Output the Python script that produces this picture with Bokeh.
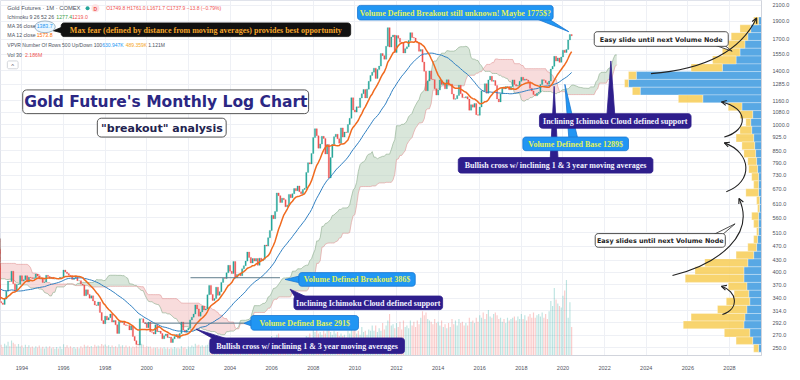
import numpy as np
import pandas as pd
from bokeh.plotting import figure
from bokeh.models import Range1d, LinearScale, FixedTicker, PrintfTickFormatter, Arrow, OpenHead
from bokeh.core.properties import value
from bokeh.embed import file_html
from bokeh.resources import INLINE

# ---------------- data: monthly closes of gold futures (USD/oz) ----------------
closes_1986_1989 = [345, 339, 345, 345, 343, 345, 357, 384, 423, 401, 383, 391,
                    400, 405, 419, 452, 451, 448, 462, 453, 460, 466, 492, 484,
                    458, 426, 457, 451, 451, 436, 437, 432, 397, 413, 422, 410,
                    394, 387, 383, 377, 362, 373, 368, 359, 367, 376, 408, 401]
closes_1990s = [415, 407, 368, 367, 363, 352, 372, 387, 408, 380, 383, 386,
                366, 363, 355, 357, 366, 368, 362, 347, 354, 357, 366, 353,
                354, 353, 341, 337, 337, 343, 357, 340, 349, 339, 334, 333,
                330, 327, 338, 355, 378, 377, 402, 372, 355, 370, 371, 391,
                378, 381, 391, 376, 387, 386, 384, 386, 395, 390, 383, 383,
                375, 376, 392, 389, 385, 387, 383, 383, 384, 383, 387, 387,
                405, 400, 396, 392, 391, 382, 385, 387, 379, 379, 371, 369,
                345, 358, 348, 340, 345, 334, 326, 325, 332, 311, 296, 290,
                304, 297, 301, 308, 293, 296, 288, 273, 294, 292, 294, 288,
                287, 287, 279, 286, 268, 261, 255, 254, 299, 299, 292, 290]
closes_2000s = [283, 293, 276, 275, 272, 288, 276, 277, 273, 264, 269, 272,
                266, 267, 258, 264, 268, 271, 265, 273, 293, 279, 275, 279,
                282, 297, 302, 308, 326, 318, 304, 312, 324, 316, 318, 347,
                368, 348, 335, 339, 364, 346, 354, 375, 385, 384, 398, 417,
                402, 396, 427, 386, 394, 395, 391, 408, 416, 428, 453, 438,
                423, 435, 428, 435, 417, 436, 429, 433, 473, 470, 495, 518,
                569, 557, 583, 654, 643, 616, 633, 627, 600, 606, 648, 635,
                651, 672, 663, 683, 659, 651, 668, 673, 743, 789, 783, 836,
                923, 975, 933, 864, 887, 930, 918, 833, 884, 718, 815, 884,
                928, 942, 916, 891, 980, 926, 955, 952, 1001, 1040, 1182, 1096]
closes_2010s = [1081, 1117, 1113, 1180, 1212, 1244, 1181, 1247, 1309, 1358, 1386, 1421,
                1333, 1410, 1439, 1556, 1536, 1502, 1628, 1828, 1620, 1724, 1746, 1566,
                1740, 1711, 1669, 1664, 1561, 1604, 1622, 1687, 1772, 1719, 1713, 1675,
                1663, 1578, 1595, 1476, 1393, 1234, 1312, 1396, 1327, 1323, 1250, 1202,
                1240, 1321, 1284, 1296, 1250, 1322, 1282, 1287, 1210, 1171, 1175, 1199,
                1278, 1212, 1183, 1182, 1190, 1172, 1094, 1132, 1115, 1141, 1064, 1060,
                1116, 1234, 1232, 1290, 1216, 1321, 1351, 1309, 1316, 1276, 1173, 1152,
                1211, 1254, 1249, 1268, 1268, 1242, 1268, 1321, 1283, 1271, 1275, 1309,
                1343, 1318, 1327, 1319, 1305, 1253, 1233, 1206, 1196, 1215, 1223, 1283,
                1323, 1316, 1298, 1285, 1311, 1413, 1437, 1529, 1485, 1514, 1473, 1523]
closes_2020 = [1589, 1566, 1596, 1694, 1751, 1738]
first_year = 1986

# monthly volume (thousand contracts), from Jan 1993
vol_1993_1999 = [820, 640, 900, 760, 1050, 720, 1150, 980, 860, 700, 880, 690,
                 760, 600, 820, 650, 780, 620, 700, 580, 720, 610, 760, 560,
                 680, 540, 700, 590, 720, 560, 640, 520, 660, 540, 700, 520,
                 860, 640, 780, 600, 720, 580, 660, 540, 640, 560, 720, 600,
                 820, 700, 760, 660, 740, 640, 820, 700, 760, 720, 880, 760,
                 840, 720, 780, 660, 760, 640, 720, 620, 860, 700, 780, 640,
                 760, 620, 720, 600, 700, 640, 760, 680, 1100, 900, 820, 640]
vol_2000s = [720, 680, 700, 560, 620, 600, 640, 540, 620, 560, 640, 540,
             620, 520, 600, 540, 660, 560, 600, 540, 720, 600, 640, 520,
             700, 640, 760, 680, 900, 760, 820, 700, 780, 680, 760, 820,
             1000, 900, 980, 820, 1000, 860, 900, 820, 980, 880, 960, 900,
             1100, 960, 1150, 1000, 1050, 900, 980, 880, 1000, 920, 1150, 1000,
             1050, 900, 1000, 880, 980, 920, 960, 880, 1200, 1050, 1250, 1150,
             1500, 1250, 1400, 1600, 1700, 1300, 1250, 1100, 1200, 1050, 1300, 1100,
             1250, 1150, 1300, 1100, 1200, 1050, 1250, 1300, 1500, 1450, 1700, 1300,
             2100, 1800, 2300, 1700, 1800, 1600, 1900, 1700, 2600, 2000, 1800, 1600,
             1900, 1700, 1800, 1500, 1700, 1500, 1600, 1400, 1900, 1700, 2200, 1900]
vol_2010s = [2100, 1700, 1900, 1600, 2200, 1800, 1900, 1600, 2000, 1900, 2300, 1900,
             2300, 1800, 2100, 1900, 2500, 2000, 2300, 2700, 3200, 2300, 2400, 2100,
             2500, 2200, 2600, 2000, 2700, 2200, 2300, 2100, 2700, 2300, 2600, 2200,
             2700, 2400, 2900, 3400, 3100, 3300, 2800, 2700, 2600, 2400, 2800, 2500,
             2600, 2300, 2700, 2200, 2400, 2100, 2500, 2200, 2800, 2400, 2700, 2300,
             2800, 2500, 2600, 2300, 2500, 2300, 2900, 2600, 2700, 2500, 2900, 2600,
             3100, 2900, 3300, 2800, 3200, 3500, 3000, 2900, 3200, 3300, 3100, 2800,
             2900, 2600, 2800, 2500, 2900, 2700, 2800, 2900, 3000, 2700, 3000, 2800,
             3200, 2800, 3100, 2700, 3000, 3200, 2900, 3300, 2900, 3100, 3200, 3000,
             3300, 2900, 3200, 2800, 3400, 4200, 3800, 5200, 4300, 4000, 3800, 3700]
vol_2020 = [4600, 5000, 5800, 2900, 4100, 2200]
vol_first_year = 1993

# visible-range volume profile: row price edges (high -> low), up / down volume (thousand contracts)
vp_edges = [1953, 1860, 1772, 1688, 1608, 1532, 1459, 1391, 1325, 1262, 1203, 1146, 1091, 1039,
            990, 943, 898, 856, 815, 777, 740, 705, 671, 640, 609, 580, 553, 527, 502, 478,
            455, 434, 413, 394, 375, 357, 341, 325, 309, 295, 281, 267, 255, 243]
vp_up = [30, 110, 140, 170, 220, 260, 400, 1280, 1360, 1240, 600, 200, 90, 110, 100, 80, 70, 60,
         50, 40, 30, 30, 30, 20, 20, 30, 30, 30, 40, 50, 80, 140, 180, 180, 150, 130, 120, 150,
         170, 180, 120, 90, 30]
vp_down = [50, 110, 170, 170, 180, 240, 320, 80, 40, 80, 250, 140, 130, 50, 120, 180, 130, 120,
           90, 90, 70, 50, 130, 30, 20, 70, 50, 20, 40, 90, 180, 440, 500, 600, 190, 150, 240, 300,
           550, 620, 260, 170, 50]

price_ticks = [250, 270, 292, 314, 340, 370, 400, 430, 470, 510, 560, 610, 670, 730, 790, 850,
               925, 1000, 1080, 1160, 1285, 1400, 1550, 1700, 1900, 2100]
year_ticks = [1994, 1996, 1998, 2000, 2002, 2004, 2006, 2008, 2010, 2012, 2014, 2016, 2018,
              2020, 2022, 2024, 2026, 2028]

level_prices = [386, 291]
level_start = [2002.1, 1999.9]
level_end = [2006.4, 2004.7]

# ---------------- derived series ----------------
closes = np.array(closes_1986_1989 + closes_1990s + closes_2000s + closes_2010s + closes_2020, dtype=float)
n = len(closes)
t = first_year + np.arange(n) / 12.0
opens = np.r_[closes[0], closes[:-1]]
hi = np.maximum(opens, closes)
lo = np.minimum(opens, closes)
up = closes >= opens

s_hi, s_lo, s_c = pd.Series(hi), pd.Series(lo), pd.Series(closes)
ma12 = s_c.rolling(12).mean().values
ma36 = s_c.rolling(36).mean().values
conv = (s_hi.rolling(9).max() + s_lo.rolling(9).min()) / 2
base = (s_hi.rolling(26).max() + s_lo.rolling(26).min()) / 2
spanA = ((conv + base) / 2).values
spanB = ((s_hi.rolling(52).max() + s_lo.rolling(52).min()) / 2).values
t_lead = t + 26 / 12.0

vols = np.array(vol_1993_1999 + vol_2000s + vol_2010s + vol_2020, dtype=float)
t_vol = vol_first_year + np.arange(len(vols)) / 12.0
vol_up = up[-len(vols):]

# ---------------- figure ----------------
p = figure(width=792, height=372, x_range=Range1d(1992.97, 2029.54), y_range=Range1d(238, 2164),
           y_axis_type="log", y_axis_location="right", output_backend="svg", toolbar_location=None,
           min_border_left=0, min_border_top=0, min_border_right=22, min_border_bottom=16)
p.outline_line_color = "#e0e3eb"
p.extra_x_ranges = {"px": Range1d(0, 778), "vp": Range1d(7780, 0)}
p.extra_x_scales = {"px": LinearScale(), "vp": LinearScale()}
p.extra_y_ranges = {"px": Range1d(364, 0), "vol": Range1d(0, 27300)}
p.extra_y_scales = {"px": LinearScale(), "vol": LinearScale()}

p.yaxis.ticker = FixedTicker(ticks=price_ticks)
p.yaxis.formatter = PrintfTickFormatter(format="%.1f")
p.xaxis.ticker = FixedTicker(ticks=year_ticks)
for ax in (p.xaxis, p.yaxis):
    ax.major_tick_line_color = None
    ax.minor_tick_line_color = None
    ax.axis_line_color = "#d1d4dc"
    ax.major_label_text_color = "#50535e"
    ax.major_label_text_font = "Liberation Sans"
    ax.major_label_text_font_size = "5.5px"
p.yaxis.major_label_standoff = 5
p.xaxis.major_label_standoff = 4
p.xgrid.grid_line_color = "#eef0f5"
p.ygrid.grid_line_color = "#eef0f5"

# volume
p.vbar(x=t_vol[vol_up], top=vols[vol_up], bottom=0, width=0.055, y_range_name="vol",
       fill_color="#26a69a", fill_alpha=0.3, line_color=None)
p.vbar(x=t_vol[~vol_up], top=vols[~vol_up], bottom=0, width=0.055, y_range_name="vol",
       fill_color="#ef5350", fill_alpha=0.3, line_color=None)

# ichimoku cloud
runs, cur = [], None
for k in range(n):
    a, b = spanA[k], spanB[k]
    if np.isnan(a) or np.isnan(b):
        if cur:
            runs.append(cur)
        cur = None
        continue
    g = a >= b
    if cur is None:
        cur = [[t_lead[k]], [a], [b], g]
    elif g == cur[3]:
        cur[0].append(t_lead[k]); cur[1].append(a); cur[2].append(b)
    else:
        d0 = spanA[k - 1] - spanB[k - 1]; d1 = a - b
        f = d0 / (d0 - d1)
        xc = t_lead[k - 1] + f * (t_lead[k] - t_lead[k - 1])
        yc = spanA[k - 1] + f * (a - spanA[k - 1])
        cur[0].append(xc); cur[1].append(yc); cur[2].append(yc)
        runs.append(cur)
        cur = [[xc, t_lead[k]], [yc, a], [yc, b], g]
if cur:
    runs.append(cur)
cxs = [r[0] + r[0][::-1] for r in runs]
cys = [r[1] + r[2][::-1] for r in runs]
ccol = ["#b4cdb5" if r[3] else "#f1b9b9" for r in runs]
p.patches(cxs, cys, fill_color=ccol, fill_alpha=0.5, line_color=None)
p.line(t_lead, spanA, line_color="#8fae90", line_width=0.8, line_alpha=0.8)
p.line(t_lead, spanB, line_color="#e39a9a", line_width=0.8, line_alpha=0.8)

# candles
p.vbar(x=t[up], top=hi[up], bottom=lo[up], width=0.06, fill_color="#26a69a", line_color="#26a69a", line_width=0.3)
p.vbar(x=t[~up], top=hi[~up], bottom=lo[~up], width=0.06, fill_color="#ef5350", line_color="#ef5350", line_width=0.3)

# moving averages
p.line(t, ma36, line_color="#2f7fc1", line_width=1.0)
p.line(t, ma12, line_color="#f06a1f", line_width=1.5)

# volume profile
vp_up_a = np.array(vp_up, dtype=float)
vp_dn_a = np.array(vp_down, dtype=float)
p.quad(left=0, right=vp_up_a, top=vp_edges[:-1], bottom=vp_edges[1:], x_range_name="vp",
       fill_color="#4fa3e3", line_color="white", line_width=0.3, fill_alpha=0.95)
p.quad(left=vp_up_a, right=vp_up_a + vp_dn_a, top=vp_edges[:-1], bottom=vp_edges[1:], x_range_name="vp",
       fill_color="#f7cd55", line_color="white", line_width=0.3, fill_alpha=0.85)

# horizontal volume levels
p.segment(x0=level_start, x1=level_end, y0=level_prices, y1=level_prices, line_color="#5f7d8c", line_width=1)

# ---------------- annotations (pixel overlay) ----------------
PX = dict(x_range_name="px", y_range_name="px")


def rrect(x0, y0, x1, y1, r):
    xs, ys = [], []
    for cx, cy, a0 in [(x1 - r, y0 + r, -90), (x1 - r, y1 - r, 0), (x0 + r, y1 - r, 90), (x0 + r, y0 + r, 180)]:
        for a in np.linspace(a0, a0 + 90, 5):
            xs.append(cx + r * np.cos(np.radians(a)))
            ys.append(cy + r * np.sin(np.radians(a)))
    return xs, ys


NAVY, BLUE, BLACK = "#2e1e8c", "#2196f3", "#111111"
SERIF = "Liberation Serif"
SANS = "DejaVu Sans"
# (x0, y0, x1, y1, fill, border, text, text color, font, size)
boxes = [
    (62, 23, 358, 37, BLACK, BLACK, "Max fear (defined by distance from moving averages) provides best opportunity", "#f4a52a", SERIF, "8px"),
    (365, 5, 565, 20, BLUE, "#1976d2", "Volume Defined Breakout still unknown! Maybe 1775$?", "#e2f25a", SERIF, "8px"),
    (607, 32, 744, 47, "white", "#222222", "Easy slide until next Volume Node", "#222222", SANS, "6.4px"),
    (608, 239, 741, 253, "white", "#222222", "Easy slides until next Volume Node", "#222222", SANS, "6.4px"),
    (551, 116, 706, 131, NAVY, NAVY, "Inclining Ichimoku Cloud defined support", "#f2f2ff", SERIF, "8px"),
    (534, 140, 642, 154, BLUE, "#1976d2", "Volume Defined Base 1289$", "#e2f25a", SERIF, "8px"),
    (468, 161, 667, 177, NAVY, NAVY, "Bullish cross w/ inclining 1 & 3 year moving averages", "#f2f2ff", SERIF, "8px"),
    (305, 279, 424, 293, BLUE, "#1976d2", "Volume Defined Breakout 386$", "#e2f25a", SERIF, "8px"),
    (300, 303, 452, 317, NAVY, NAVY, "Inclining Ichimoku Cloud defined support", "#f2f2ff", SERIF, "8px"),
    (256, 323, 366, 338, BLUE, "#1976d2", "Volume Defined Base 291$", "#e2f25a", SERIF, "8px"),
    (214, 346, 413, 362, NAVY, NAVY, "Bullish cross w/ inclining 1 & 3 year moving averages", "#f2f2ff", SERIF, "8px"),
]
tails = [
    ([66, 66, 54], [26, 34, 31], BLACK, BLACK),
    ([546, 559, 581], [18, 18, 32], BLUE, "#1976d2"),
    ([728, 739, 748], [45, 45, 52], "white", "#222222"),
    ([727, 737, 751], [241, 241, 229], "white", "#222222"),
    ([562, 570, 566], [162, 162, 88], NAVY, NAVY),
    ([620, 628, 624], [117, 117, 62], NAVY, NAVY),
    ([581, 590, 577], [141, 141, 86], BLUE, "#1976d2"),
    ([308, 308, 291], [282, 290, 286], BLUE, "#1976d2"),
    ([301, 313, 296], [304, 304, 296], NAVY, NAVY),
    ([260, 260, 249], [326, 335, 331], BLUE, "#1976d2"),
    ([218, 232, 200], [347, 347, 337], NAVY, NAVY),
]
p.patches([tl[0] for tl in tails], [tl[1] for tl in tails], fill_color=[tl[2] for tl in tails],
          line_color=[tl[3] for tl in tails], line_width=0.8, **PX)
bx, by = zip(*[rrect(b[0], b[1], b[2], b[3], 3) for b in boxes])
p.patches(list(bx), list(by), fill_color=[b[4] for b in boxes], line_color=[b[5] for b in boxes],
          line_width=0.8, **PX)
for b in boxes:
    p.text(x=[(b[0] + b[2]) / 2], y=[(b[1] + b[3]) / 2 + 0.5], text=[b[6]], text_color=b[7],
           text_font=value(b[8]), text_font_size=b[9], text_font_style="bold",
           text_align="center", text_baseline="middle", **PX)

# title boxes
tx, ty = rrect(22.7, 91.7, 315, 116, 4)
p.patch(tx, ty, fill_color="white", line_color="#555555", line_width=1, **PX)
sx, sy = rrect(99, 120.7, 230.7, 140, 4)
p.patch(sx, sy, fill_color="white", line_color="#555555", line_width=1, **PX)
p.text(x=[169], y=[104.5], text=["Gold Future's Monthly Log Chart"], text_color="#2b2783",
       text_font=value(SANS), text_font_size="15.5px", text_font_style="bold",
       text_align="center", text_baseline="middle", **PX)
p.text(x=[165], y=[130.8], text=['"breakout" analysis'], text_color="#23234e",
       text_font=value(SANS), text_font_size="11px", text_font_style="bold",
       text_align="center", text_baseline="middle", **PX)

# legend (top-left)
p.ellipse(x=[45.5], y=[27], width=21, height=12, fill_color="#e3f2fd", fill_alpha=0.7,
          line_color="#8aa4b8", line_width=0.8, **PX)
GREY = "#4c525e"
legend = [
    (7, 8, "Gold Futures · 1M · COMEX", GREY, "5.8px"),
    (108, 8, "O1749.8 H1761.0 L1671.7 C1737.9 −13.8 (−0.79%)", "#ef5350", "5.0px"),
    (7, 17, "Ichimoku 9 26 52 26", GREY, "5.2px"),
    (57, 17, "1277.4", "#43a047", "5.2px"),
    (73, 17, "1219.0", "#ef5350", "5.2px"),
    (7, 26, "MA 36 close", GREY, "5.2px"),
    (37, 26, "1383.7", "#2196f3", "5.2px"),
    (7, 35, "MA 12 close", GREY, "5.2px"),
    (37, 35, "1573.8", "#ff6d00", "5.2px"),
    (7, 46, "VPVR Number Of Rows 500 Up/Down 100", GREY, "5.0px"),
    (104, 46, "630.947K", "#2196f3", "5.0px"),
    (128, 46, "489.359K", "#f5a623", "5.0px"),
    (151, 46, "1.121M", GREY, "5.0px"),
    (7, 56, "Vol 30", GREY, "5.2px"),
    (25, 56, "2.186M", "#ef5350", "5.2px"),
]
for lx, ly, lt, lc, ls in legend:
    p.text(x=[lx], y=[ly], text=[lt], text_color=lc, text_font=value("Liberation Sans"),
           text_font_size=ls, text_align="left", text_baseline="middle", **PX)
p.scatter(x=[89], y=[8], size=4, marker="circle", fill_color="#26a69a", line_color=None, **PX)
p.scatter(x=[97], y=[8], size=8, marker="circle", fill_color="#fde2e2", line_color=None, **PX)
p.text(x=[97], y=[8.3], text=["D"], text_color="#ef5350", text_font=value("Liberation Sans"),
       text_font_size="5px", text_font_style="bold", text_align="center", text_baseline="middle", **PX)
ux, uy = rrect(7, 62, 18, 70, 1.5)
p.patch(ux, uy, fill_color="white", line_color="#c8cbd2", line_width=0.8, **PX)
p.text(x=[12.5], y=[67.5], text=["^"], text_color=GREY, text_font=value("Liberation Sans"),
       text_font_size="6px", text_align="center", text_baseline="middle", **PX)

# curved arrows
curves = [
    # x0, y0, x1, y1, cx0, cy0, cx1, cy1
    (665, 75, 773, 18, 730, 70, 760, 45),
    (740, 140, 737, 104, 765, 133, 765, 110),
    (742, 196, 740, 146, 770, 186, 768, 156),
    (687, 282, 755, 203, 735, 270, 772, 240),
    (738, 322, 737, 293, 756, 316, 753, 298),
]
p.bezier(x0=[c[0] for c in curves], y0=[c[1] for c in curves], x1=[c[2] for c in curves],
         y1=[c[3] for c in curves], cx0=[c[4] for c in curves], cy0=[c[5] for c in curves],
         cx1=[c[6] for c in curves], cy1=[c[7] for c in curves], line_color="#222222",
         line_width=1.1, **PX)
for c in curves:
    p.add_layout(Arrow(end=OpenHead(size=5, line_width=1.1, line_color="#222222"),
                       x_start=c[6], y_start=c[7], x_end=c[2], y_end=c[3],
                       line_alpha=0, **PX))

open("out.html", "w").write(file_html(p, INLINE))
